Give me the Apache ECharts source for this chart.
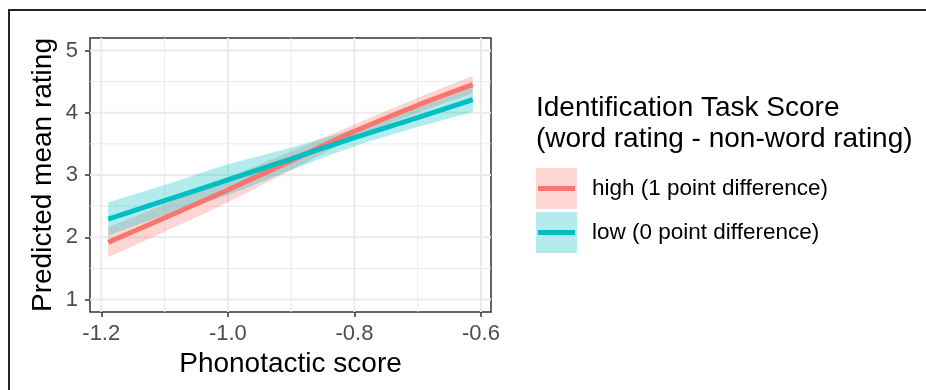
<!DOCTYPE html>
<html>
<head>
<meta charset="utf-8">
<script src="https://cdn.jsdelivr.net/npm/echarts@6/dist/echarts.min.js"></script>
<style>
html,body{margin:0;padding:0;background:#fff;}
#chart{width:926px;height:390px;}
</style>
</head>
<body>
<div id="chart"></div>
<script>
// ---- data ----
const xs = [-1.189, -1.1, -1.0, -0.9, -0.8, -0.7, -0.613];
const highMean  = [1.92, 2.31, 2.76, 3.23, 3.70, 4.12, 4.45];
const highLower = [1.68, 2.09, 2.56, 3.08, 3.59, 4.00, 4.31];
const highUpper = [2.16, 2.53, 2.96, 3.38, 3.81, 4.24, 4.59];
const lowMean   = [2.29, 2.59, 2.92, 3.26, 3.60, 3.92, 4.21];
const lowLower  = [2.03, 2.35, 2.68, 3.08, 3.46, 3.77, 4.01];
const lowUpper  = [2.56, 2.84, 3.17, 3.44, 3.74, 4.08, 4.40];

const xTicks = [-1.2, -1.0, -0.8, -0.6];
const xMinor = [-1.1, -0.9, -0.7];
const yTicks = [1, 2, 3, 4, 5];
const yMinor = [1.5, 2.5, 3.5, 4.5];

const seriesNames = ['high (1 point difference)', 'low (0 point difference)'];
const legendTitle = ['Identification Task Score', '(word rating - non-word rating)'];
const xTitle = 'Phonotactic score';
const yTitle = 'Predicted mean rating';

const X_MIN = -1.2178, X_MAX = -0.5842, Y_MIN = 0.8, Y_MAX = 5.2;

const RED = '#F8766D', TEAL = '#00BFC4';
const RED_FILL = 'rgba(248,118,109,0.3)', TEAL_FILL = 'rgba(0,191,196,0.3)';
const FONT = '"Liberation Sans", Arial, sans-serif';

const pairs = (a, b) => a.map((v, i) => [v, b[i]]);

// Catmull-Rom curve through pixel points (rendering only)
function curve(pts) {
  const out = [];
  const n = pts.length;
  for (let i = 0; i < n - 1; i++) {
    const p0 = pts[Math.max(i - 1, 0)], p1 = pts[i], p2 = pts[i + 1], p3 = pts[Math.min(i + 2, n - 1)];
    const steps = 12;
    for (let s = 0; s < steps; s++) {
      const t = s / steps, t2 = t * t, t3 = t2 * t;
      const f = (a, b, c, d) => 0.5 * ((2 * b) + (-a + c) * t + (2 * a - 5 * b + 4 * c - d) * t2 + (-a + 3 * b - 3 * c + d) * t3);
      out.push([f(p0[0], p1[0], p2[0], p3[0]), f(p0[1], p1[1], p2[1], p3[1])]);
    }
  }
  out.push(pts[n - 1]);
  return out;
}

function ribbon(lower, upper, fill) {
  return {
    type: 'custom', data: [0], z: 2, silent: true, clip: true,
    renderItem: function (params, api) {
      const up = curve(xs.map((x, i) => api.coord([x, upper[i]])));
      const lo = curve(xs.map((x, i) => api.coord([x, lower[i]]))).reverse();
      return { type: 'polygon', shape: { points: up.concat(lo) }, style: { fill: fill } };
    }
  };
}

// panel grid lines drawn through the axes' scales
const gridSeries = {
  type: 'custom', data: [0], z: 1, silent: true,
  renderItem: function (params, api) {
    const children = [];
    const vline = (v, w) => {
      const a = api.coord([v, Y_MIN]), b = api.coord([v, Y_MAX]);
      children.push({ type: 'line', shape: { x1: a[0], y1: a[1], x2: b[0], y2: b[1] },
                      style: { stroke: '#EBEBEB', lineWidth: w } });
    };
    const hline = (v, w) => {
      const a = api.coord([X_MIN, v]), b = api.coord([X_MAX, v]);
      children.push({ type: 'line', shape: { x1: a[0], y1: a[1], x2: b[0], y2: b[1] },
                      style: { stroke: '#EBEBEB', lineWidth: w } });
    };
    xMinor.forEach(v => vline(v, 1));
    yMinor.forEach(v => hline(v, 1));
    xTicks.forEach(v => vline(v, 2));
    yTicks.forEach(v => hline(v, 2));
    return { type: 'group', children: children };
  }
};

const chart = echarts.init(document.getElementById('chart'), null, { renderer: 'canvas' });
chart.setOption({
  animation: false,
  backgroundColor: '#ffffff',
  grid: { left: 90, top: 38, width: 401, height: 274, show: true,
          borderColor: '#333333', borderWidth: 1.5, backgroundColor: '#ffffff' },
  xAxis: {
    type: 'value', min: X_MIN, max: X_MAX,
    axisLine: { show: false },
    splitLine: { show: false },
    axisTick: { show: true, customValues: xTicks, length: 5, lineStyle: { color: '#333333', width: 1.5 } },
    axisLabel: { customValues: xTicks, formatter: v => v.toFixed(1), fontSize: 22, color: '#4D4D4D',
                 fontFamily: FONT, margin: 11 }
  },
  yAxis: {
    type: 'value', min: Y_MIN, max: Y_MAX,
    axisLine: { show: false },
    splitLine: { show: false },
    axisTick: { show: true, customValues: yTicks, length: 5, lineStyle: { color: '#333333', width: 1.5 } },
    axisLabel: { customValues: yTicks, formatter: v => String(v), fontSize: 22, color: '#4D4D4D',
                 fontFamily: FONT, margin: 12 }
  },
  series: [
    gridSeries,
    ribbon(highLower, highUpper, RED_FILL),
    ribbon(lowLower, lowUpper, TEAL_FILL),
    { name: seriesNames[0], type: 'line', data: pairs(xs, highMean), smooth: 0.3, showSymbol: false,
      lineStyle: { color: RED, width: 5 }, z: 3 },
    { name: seriesNames[1], type: 'line', data: pairs(xs, lowMean), smooth: 0.3, showSymbol: false,
      lineStyle: { color: TEAL, width: 5 }, z: 4 }
  ],
  graphic: [
    { type: 'rect', shape: { x: 9, y: 10, width: 1200, height: 1000 },
      style: { fill: 'none', stroke: '#222222', lineWidth: 2 }, z: 100 },
    { type: 'text', x: 290.5, y: 364, style: { text: xTitle, font: '28px ' + FONT, fill: '#000',
      align: 'center', verticalAlign: 'middle' } },
    { type: 'text', x: 43, y: 175, rotation: Math.PI / 2, style: { text: yTitle, font: '28px ' + FONT, fill: '#000',
      align: 'center', verticalAlign: 'middle' } },
    { type: 'text', x: 536, y: 108, style: { text: legendTitle[0], font: '28px ' + FONT, fill: '#000',
      align: 'left', verticalAlign: 'middle' } },
    { type: 'text', x: 536, y: 139, style: { text: legendTitle[1], font: '28px ' + FONT, fill: '#000',
      align: 'left', verticalAlign: 'middle' } },
    { type: 'rect', shape: { x: 536, y: 168, width: 41, height: 41 }, style: { fill: RED_FILL } },
    { type: 'line', shape: { x1: 538, y1: 188.5, x2: 575, y2: 188.5 }, style: { stroke: RED, lineWidth: 5 } },
    { type: 'rect', shape: { x: 536, y: 212, width: 41, height: 41 }, style: { fill: TEAL_FILL } },
    { type: 'line', shape: { x1: 538, y1: 232.5, x2: 575, y2: 232.5 }, style: { stroke: TEAL, lineWidth: 5 } },
    { type: 'text', x: 592, y: 188.5, style: { text: seriesNames[0], font: '22.5px ' + FONT, fill: '#000',
      align: 'left', verticalAlign: 'middle' } },
    { type: 'text', x: 592, y: 232.5, style: { text: seriesNames[1], font: '22.5px ' + FONT, fill: '#000',
      align: 'left', verticalAlign: 'middle' } }
  ]
});
</script>
</body>
</html>
